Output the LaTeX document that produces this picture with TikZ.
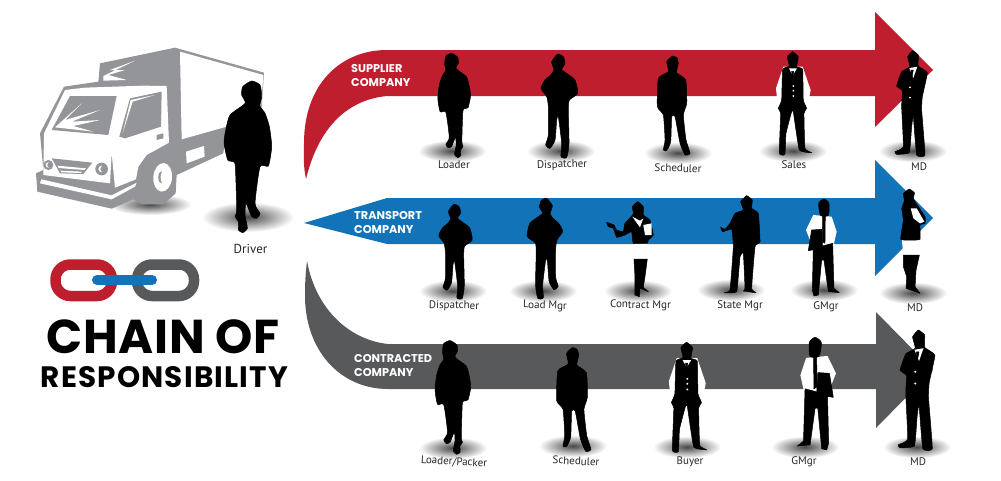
\documentclass[tikz,border=0pt]{standalone}
\usepackage{fontspec}
\usepackage{xcolor}
\newfontfamily\titlefont{Poppins}
\newfontfamily\labelfont{PT Sans}
\definecolor{chainred}{HTML}{BE1E2D}
\definecolor{chainblue}{HTML}{1273B9}
\definecolor{chaingrey}{HTML}{58595B}
\definecolor{truckgrey}{HTML}{939598}
\tikzset{
    floorshadow/.style={shade, inner color=black!72, outer color=white},
    rolelabel/.style={font=\labelfont\fontsize{11}{13}\selectfont, text=black!85, inner sep=0pt},
    bandlabel/.style={font=\titlefont\bfseries\fontsize{11.3}{14}\selectfont, text=white, align=left, anchor=north west, inner sep=0pt},
    link/.style={line width=10.5pt, rounded corners=15pt},
    body/.style={fill=black, draw=black, line width=.5pt, line join=round},
    cloth/.style={fill=white},
    hoodie/.pic={
        \path[body, shift={(-743,-592)}] plot[smooth cycle, tension=.35] coordinates {(755,183) (728,200) (725,225) (735,250) (690,285) (677,330) (672,370) (683,420) (700,425) (706,440) (710,570) (705,590) (715,605) (715,630) (728,638) (742,625) (735,585) (738,550) (755,590) (770,595) (780,580) (765,550) (780,440) (805,438) (815,380) (808,320) (795,280) (780,258) (785,230) (780,195)};
    },
    jacket/.pic={
        \path[body, shift={(-783,-452)}] plot[smooth cycle, tension=.35] coordinates {(773,162) (755,185) (762,210) (752,225) (735,240) (723,265) (740,290) (745,320) (745,405) (737,435) (750,445) (765,420) (770,360) (775,350) (785,430) (783,470) (800,472) (807,430) (805,330) (808,300) (833,280) (825,240) (800,220) (785,208) (795,190) (790,170)};
    },
    plainman/.pic={
        \path[body, shift={(-83,-460)}] plot[smooth cycle, tension=.3] coordinates {(67,168) (50,185) (55,215) (25,235) (22,320) (40,345) (45,420) (40,450) (50,452) (62,425) (65,350) (75,350) (90,430) (105,465) (120,460) (108,420) (100,345) (110,310) (107,240) (80,218) (85,190) (80,173)};
    },
    vestman/.pic={
        \begin{scope}[shift={(-430,-452)}]
            \fill[cloth] (400,200) -- (378,265) -- (385,330) -- (470,330) -- (482,270) -- (458,200) -- cycle;
            \path[body] plot[smooth cycle, tension=.2] coordinates {(428,155) (412,170) (418,198) (398,208) (395,300) (385,325) (392,340) (388,460) (405,463) (408,400) (425,335) (430,335) (448,450) (485,458) (465,445) (462,340) (470,325) (460,300) (458,208) (440,200) (445,170)};
            \fill[cloth] (417,205) -- (428,226) -- (441,205) -- cycle;
            \path[body] (425,214) -- (431,214) -- (428,236) -- cycle;
            \foreach \yy in {258, 272, 288} \fill[cloth] (430,\yy) circle (3);
        \end{scope}
    },
    suitman/.pic={
        \begin{scope}[shift={(-790,-452)}]
            \path[body] plot[smooth cycle, tension=.2] coordinates {(788,152) (773,170) (780,200) (755,215) (740,258) (757,272) (755,320) (760,440) (735,455) (740,463) (778,458) (785,380) (790,350) (800,465) (825,465) (815,330) (817,290) (832,218) (805,198) (805,165)};
            \fill[cloth] (778,204) -- (790,234) -- (802,200) -- cycle;
            \path[body] (783,210) -- (790,210) -- (785,236) -- cycle;
            \fill[cloth] (780,262) circle (3) (780,293) circle (3);
        \end{scope}
    },
    shirtman/.pic={
        \begin{scope}[shift={(-523,-300)}]
            \fill[cloth] (490,75) -- (468,120) -- (480,150) -- (490,175) -- (550,170) -- (560,125) -- (545,80) -- cycle;
            \path[body] plot[smooth cycle, tension=.4] coordinates {(522,27) (506,40) (512,76) (535,76) (537,40)};
            \path[body] (518,78) -- (526,78) -- (525,160) -- (517,155) -- cycle;
            \path[body] (485,120) -- (515,118) -- (518,175) -- (475,182) -- (480,150) -- cycle;
            \path[body] (490,175) -- (548,160) -- (552,295) -- (568,308) -- (535,305) -- (522,210) -- (515,210) -- (505,315) -- (492,318) -- (487,300) -- cycle;
        \end{scope}
    },
    pointman/.pic={
        \path[body, shift={(-243,-300)}] plot[smooth cycle, tension=.2] coordinates {(290,17) (272,35) (280,60) (255,70) (240,100) (225,118) (212,112) (218,125) (245,118) (250,170) (240,300) (222,308) (260,305) (270,200) (280,190) (285,295) (280,303) (318,308) (305,295) (315,170) (330,155) (325,70) (305,55) (307,30)};
    },
    clerkwoman/.pic={
        \begin{scope}[shift={(-145,-303)}]
            \fill[cloth] (132,158) -- (172,158) -- (172,207) -- (132,207) -- cycle;
            \path[body] plot[smooth cycle, tension=.2] coordinates {(143,35) (127,50) (130,72) (105,100) (100,125) (80,120) (72,105) (50,97) (55,110) (70,115) (80,142) (105,135) (125,125) (130,160) (172,160) (175,150) (190,135) (180,90) (160,75) (160,50)};
            \fill[cloth] (127,80) -- (150,112) -- (160,85) -- (150,92) -- cycle (160,105) -- (185,100) -- (185,135) -- (165,135) -- cycle;
            \path[body] (132,207) -- (172,207) -- (165,260) -- (160,292) -- (175,305) -- (150,295) -- (148,320) -- (135,315) -- (135,260) -- cycle;
        \end{scope}
    },
    bosswoman/.pic={
        \begin{scope}[shift={(-128,-335)}]
            \fill[cloth] (95,175) -- (150,175) -- (148,224) -- (100,226) -- cycle;
            \path[body] plot[smooth cycle, tension=.2] coordinates {(118,27) (100,40) (103,62) (95,85) (100,120) (92,178) (125,180) (150,178) (150,135) (165,130) (165,110) (135,65) (130,55) (133,38)};
            \fill[cloth] (122,85) -- (140,85) -- (163,125) -- (150,130) -- (130,115) -- cycle;
            \path[body] (100,225) -- (148,225) -- (138,270) -- (135,320) -- (150,340) -- (108,325) -- (110,290) -- (100,260) -- cycle;
        \end{scope}
    },
}
\begin{document}
\begin{tikzpicture}[x=1pt, y=-1pt]
    \useasboundingbox (0,0) rectangle (1001,480);

    % Arrows
    \fill[chainred] (387,50) -- (875,50) -- (875,12) -- (933,70) -- (875,127) -- (875,96) -- (387,96)
        .. controls (345,100) and (318,130) .. (306,179)
        .. controls (303,165) and (304,155) .. (304,143)
        .. controls (304,85) and (340,50) .. (387,50) -- cycle;
    \fill[chainblue] (387,198) -- (875,198) -- (875,160) -- (933,218) -- (875,276) -- (875,244) -- (387,244) -- (304,223) -- cycle;
    \fill[chaingrey] (388,344) -- (876,344) -- (876,312) -- (933,370) -- (876,428) -- (876,389) -- (388,389)
        .. controls (340,389) and (304,350) .. (305,293)
        .. controls (305,280) and (306,270) .. (307,261)
        .. controls (316,310) and (350,340) .. (388,344) -- cycle;

    % Truck
    \begin{scope}[shift={(0,20)}, scale=1/3]
        \shade[floorshadow] (450,553) ellipse (125 and 32);
        \fill[truckgrey] (525,83) -- (792,158) -- (785,262) -- (680,320) -- (670,400) -- (530,465) -- (527,520) -- (490,553) -- (425,553) -- (400,538) -- (335,566) -- (112,515) -- (108,460) -- (130,450) -- (120,340) -- (192,200) -- (295,185) -- (300,130) -- cycle;
        \fill[white] (540,95) -- (790,165) -- (783,262) -- (680,320) -- (545,358) -- cycle;
        \fill[white] (558,395) -- (612,378) -- (614,410) -- (560,430) -- cycle;
        \fill[white] (310,168) -- (405,122) -- (330,150) -- (375,150) -- (325,165) -- (380,180) -- (310,182) -- cycle;
        \fill[white] (255,203) -- (430,197) -- (500,198) -- (507,368) -- (440,405) -- (415,440) -- (408,478) -- (345,503) -- (335,400) -- (330,490) -- (130,465) -- (132,340) -- (195,210) -- cycle;
        \fill[truckgrey] (155,330) -- (210,228) -- (350,228) -- (325,345) -- cycle;
        \fill[white] (165,322) -- (245,250) -- (195,300) -- (300,270) -- (215,305) -- (300,300) -- (220,318) -- (280,335) -- cycle;
        \fill[truckgrey] (358,350) -- (390,235) -- (485,215) -- (483,320) -- (375,355) -- cycle;
        \fill[white] (368,340) -- (392,240) -- (465,225) -- (398,245) -- cycle;
        \fill[truckgrey] (470,345) -- (490,340) -- (490,355) -- (470,360) -- cycle;
        \fill[truckgrey] (155,415) -- (277,428) -- (250,462) -- (180,460) -- cycle;
        \fill[white] (172,437) -- (258,445) -- (252,450) -- (176,444) -- cycle;
        \fill[white] (182,452) -- (245,455) -- (243,459) -- (184,457) -- cycle;
        \fill[truckgrey] (145,435) circle (15) (305,447) circle (19);
        \fill[white] (145,435) circle (8) (305,447) circle (10);
        \fill[truckgrey] (150,435) circle (8) (311,447) circle (10);
        \fill[white] (124,478) -- (335,526) -- (410,488) -- (405,500) -- (335,538) -- (120,490) -- cycle;
        \fill[white, rotate around={-5:(488,472)}] (488,472) ellipse (28 and 43);
        \fill[truckgrey] (484,472) ellipse (9 and 18);
        \fill[white] (491,472) ellipse (9 and 20);
    \end{scope}

    % Chain
    \draw[link, chainred] (55.5,264.5) rectangle (112,296);
    \draw[link, chaingrey] (137,264.5) rectangle (194,296);
    \draw[chainblue, line width=10pt, line cap=round] (97,280) -- (152,280);

    % Title
    \node[font=\titlefont\bfseries\fontsize{47.5}{48}\selectfont, inner sep=0pt] (titlea) at (163,337) {\addfontfeature{LetterSpace=1.5}CHAIN OF};
    \node[font=\titlefont\bfseries\fontsize{29.5}{30}\selectfont, inner sep=0pt] (titleb) at (164.5,377.5) {\addfontfeature{LetterSpace=4}RESPONSIBILITY};

    % Band labels
    \node[bandlabel] (supplier) at (351,64) {SUPPLIER\\COMPANY};
    \node[bandlabel] (transport) at (354,211) {TRANSPORT\\COMPANY};
    \node[bandlabel] (contracted) at (354,354) {CONTRACTED\\COMPANY};

    % Shadows
    \foreach \x/\y in {452/151, 561/151, 678/153, 793/151, 913/151,
                       453/291, 543/291, 638/291, 731/290, 824/290, 913/293,
                       453/448, 573/446, 687/447, 805/447, 917/447}
        \shade[floorshadow] (\x,\y) ellipse (34 and 11);
    \shade[floorshadow] (248,217) ellipse (46 and 15);

    % People
    \pic at (247.7,217.3) [scale=1/3] {hoodie};
    \pic at (454.3,147) [xscale=-.229, yscale=.229] {hoodie};
    \pic at (561,150.7) [scale=1/3] {jacket};
    \pic at (677.7,153.3) [scale=1/3] {plainman};
    \pic at (793.3,150.7) [scale=1/3] {vestman};
    \pic at (913.3,150.7) [scale=1/3] {suitman};

    \pic at (457,292.4) [scale=.304] {jacket};
    \pic at (543.3,291.9) [xscale=-.323, yscale=.323] {jacket};
    \pic at (638.3,291) [scale=1/3] {clerkwoman};
    \pic at (731,290) [scale=1/3] {pointman};
    \pic at (824.3,290) [scale=1/3] {shirtman};
    \pic at (912.7,291.7) [scale=1/3] {bosswoman};

    \pic at (453,442.8) [xscale=-.25, yscale=.25] {hoodie};
    \pic at (578,449.5) [scale=.349] {plainman};
    \pic at (687.3,447.7) [scale=.355] {vestman};
    \pic at (814.7,443) [xscale=-.387, yscale=.387] {shirtman};
    \pic at (919,443.7) [scale=.379] {suitman};

    % Role labels
    \node[rolelabel, font=\labelfont\fontsize{13}{15}\selectfont] (driver) at (250.5,249) {Driver};
    \node[rolelabel] (loader) at (454,165) {Loader};
    \node[rolelabel, rotate=1.5] (dispatcha) at (562,165) {Dispatcher};
    \node[rolelabel, rotate=-2] (schedulera) at (678,168) {Scheduler};
    \node[rolelabel] (sales) at (794,165) {Sales};
    \node[rolelabel] (mda) at (919,167) {MD};
    \node[rolelabel, rotate=-1] (dispatchb) at (454,306) {Dispatcher};
    \node[rolelabel, rotate=-2] (loadmgr) at (545,306) {Load Mgr};
    \node[rolelabel, rotate=-1] (contractmgr) at (640.5,305.5) {Contract Mgr};
    \node[rolelabel] (statemgr) at (740,306) {State Mgr};
    \node[rolelabel] (gmgra) at (826,306.5) {GMgr};
    \node[rolelabel] (mdb) at (915,308) {MD};
    \node[rolelabel, rotate=-3] (packer) at (454,462) {Loader/Packer};
    \node[rolelabel, rotate=-3] (schedulerb) at (576,461) {Scheduler};
    \node[rolelabel] (buyer) at (690,462) {Buyer};
    \node[rolelabel] (gmgrb) at (804,462) {GMgr};
    \node[rolelabel] (mdc) at (918,462) {MD};
\end{tikzpicture}
\end{document}
